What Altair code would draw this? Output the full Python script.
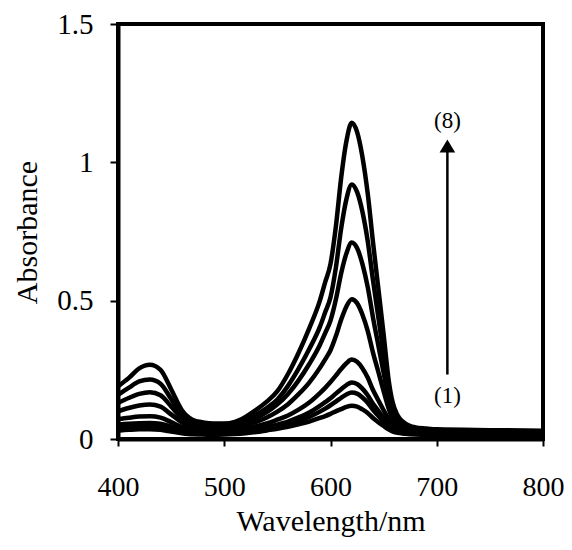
import altair as alt
import pandas as pd

wavelength = [400, 410, 420, 430, 440, 450, 460, 470, 480, 490, 500, 510,
              520, 530, 540, 550, 560, 570, 580, 590,
              595, 600, 605, 610, 615, 620, 625, 630, 635, 640, 645, 650, 655, 660,
              670, 680, 690, 700, 750, 800]

curve_1 = [.030, .033, .035, .035, .033, .027, .021, .017, .016, .015, .016, .018,
           .021, .025, .031, .037, .044, .053, .063, .076,
           .083, .091, .100, .108, .116, .120, .117, .107, .094, .076, .061, .047, .034, .025,
           .019, .016, .015, .015, .015, .015]
curve_2 = [.042, .044, .046, .046, .044, .036, .027, .022, .020, .019, .020, .022,
           .026, .030, .036, .044, .053, .065, .080, .099,
           .110, .122, .135, .149, .161, .168, .164, .150, .131, .105, .084, .063, .044, .030,
           .023, .020, .019, .018, .017, .017]
curve_3 = [.052, .055, .057, .058, .055, .045, .034, .027, .024, .023, .024, .027,
           .030, .036, .043, .052, .063, .078, .096, .120,
           .133, .147, .164, .180, .195, .204, .199, .182, .158, .127, .102, .076, .052, .036,
           .026, .023, .022, .021, .020, .019]
curve_4 = [.072, .077, .081, .082, .077, .061, .044, .035, .031, .030, .031, .034,
           .038, .046, .056, .070, .085, .106, .132, .166,
           .185, .206, .229, .253, .274, .287, .279, .256, .222, .177, .140, .104, .070, .046,
           .033, .028, .026, .025, .023, .022]
curve_5 = [.100, .112, .121, .125, .117, .089, .060, .044, .039, .037, .038, .043,
           .050, .062, .078, .099, .126, .162, .204, .257,
           .288, .321, .371, .431, .479, .505, .491, .450, .391, .312, .243, .173, .107, .064,
           .040, .032, .029, .027, .025, .024]
curve_6 = [.130, .148, .163, .169, .158, .118, .075, .053, .046, .044, .045, .051,
           .061, .076, .097, .125, .163, .212, .271, .340,
           .383, .428, .503, .598, .671, .710, .690, .633, .550, .439, .339, .239, .141, .080,
           .046, .035, .031, .029, .027, .026]
curve_7 = [.160, .185, .208, .215, .200, .145, .088, .060, .052, .049, .050, .056,
           .070, .088, .112, .143, .192, .254, .325, .405,
           .458, .512, .618, .760, .867, .920, .893, .822, .716, .574, .440, .307, .174, .094,
           .050, .037, .034, .032, .029, .027]
curve_8 = [.190, .220, .255, .268, .250, .180, .105, .070, .060, .056, .056, .062,
           .080, .105, .135, .173, .235, .312, .400, .500,
           .567, .633, .766, .943, 1.077, 1.143, 1.110, 1.021, .888, .711, .545, .378, .205, .113,
           .057, .042, .038, .035, .032, .030]

label_text = ["(8)", "(1)"]
label_x = [710, 710]
label_y = [1.15, 0.157]

arrow_x = [710]
arrow_start = [0.233]
arrow_end = [1.045]
arrow_tip = [1.059]

x_ticks = [400, 500, 600, 700, 800]
y_ticks = [0, 0.5, 1, 1.5]

curves = [curve_1, curve_2, curve_3, curve_4, curve_5, curve_6, curve_7, curve_8]
rows = []
for i, c in enumerate(curves, 1):
    for w, a in zip(wavelength, c):
        rows.append({"wavelength": w, "absorbance": a, "series": str(i)})
df = pd.DataFrame(rows)

labels_df = pd.DataFrame({"wavelength": label_x, "absorbance": label_y, "text": label_text})
rule_df = pd.DataFrame({"wavelength": arrow_x, "absorbance": arrow_start, "absorbance2": arrow_end})
head_df = pd.DataFrame({"wavelength": arrow_x, "absorbance": arrow_tip})

FONT = "Liberation Serif"

x_scale = alt.Scale(domain=[400, 800], nice=False, zero=False)
y_scale = alt.Scale(domain=[0, 1.5], nice=False, zero=False)

x_axis = alt.Axis(values=x_ticks, title="Wavelength/nm", grid=False,
                  domainColor="black", domainWidth=4, tickColor="black", tickWidth=2,
                  tickSize=7, labelFont=FONT, labelFontSize=28, labelColor="black",
                  labelPadding=27, labelFlush=False,
                  titleFont=FONT, titleFontSize=30, titleFontWeight="normal",
                  titleColor="black", titleY=91, titleBaseline="alphabetic")
y_axis = alt.Axis(values=y_ticks, format="~g", title="Absorbance", grid=False,
                  domainColor="black", domainWidth=4, tickColor="black", tickWidth=2,
                  tickSize=8, labelFont=FONT, labelFontSize=29, labelColor="black",
                  labelPadding=17, labelFlush=False,
                  titleFont=FONT, titleFontSize=30, titleFontWeight="normal",
                  titleColor="black", titleX=-82, titleY=208, titleAngle=270,
                  titleAlign="center", titleBaseline="alphabetic")

X = alt.X("wavelength:Q", scale=x_scale, axis=x_axis)
Y = alt.Y("absorbance:Q", scale=y_scale, axis=y_axis)

lines = alt.Chart(df).mark_line(color="black", strokeWidth=4.5, interpolate="monotone").encode(
    x=X, y=Y, detail="series:N"
)

rule = alt.Chart(rule_df).mark_rule(color="black", strokeWidth=2.5).encode(
    x=X, y=Y, y2=alt.Y2("absorbance2")
)

head = alt.Chart(head_df).mark_point(
    shape="M0,-1L1.2,1L-1.2,1Z", size=169, filled=True, color="black", opacity=1
).encode(x=X, y=Y)

texts = alt.Chart(labels_df).mark_text(font=FONT, fontSize=23, color="black").encode(
    x=X, y=Y, text="text:N"
)

chart = alt.layer(lines, rule, head, texts).properties(
    width=425, height=415,
    autosize=alt.AutoSizeParams(type="none"),
    padding={"left": 110, "top": 16, "right": 21, "bottom": 99},
).configure_view(stroke="black", strokeWidth=4)

chart.save("out.html", embed_options={"renderer": "svg", "actions": False})
